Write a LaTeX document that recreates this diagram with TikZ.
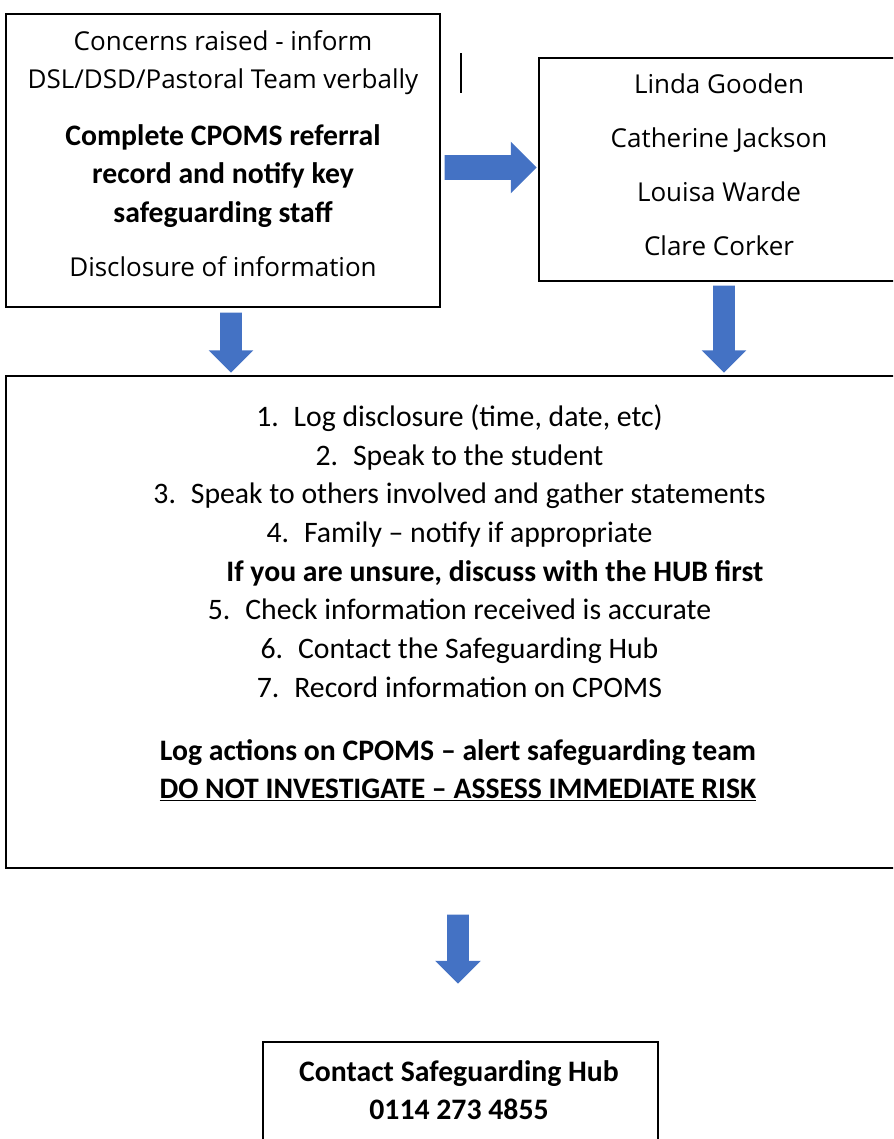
\documentclass[tikz,border=0pt]{standalone}
\usepackage{fontspec}
\setmainfont{Carlito}
\newfontfamily\segoe{Open Sans}
\usepackage{tikz}
\usetikzlibrary{shapes}
\definecolor{officeblue}{HTML}{4472C4}
\tikzset{
  box/.style={rectangle,draw,line width=1.3pt,inner sep=0pt},
  block arrow/.style n args={3}{single arrow,fill=officeblue,draw=none,
    inner xsep=0pt,inner ysep={0.5*#3},single arrow tip angle=90,anchor=tip,
    single arrow head extend={(#2-#3)/2},minimum height=#1,minimum width=#2},
  seg text/.style={font=\segoe\fontsize{19.5}{28.5}\selectfont,align=center},
  cal text/.style={font=\fontsize{22.3}{29}\selectfont,align=center},
  cal bold/.style={font=\bfseries\fontsize{22.3}{29}\selectfont,align=center}
}

\begin{document}
\begin{tikzpicture}[x=0.75pt,y=-0.75pt]
	\clip (0,0) rectangle (893,1139);
	% boxes
	\node [box,minimum width=325.5pt,minimum height=219.75pt] (concern) at (223,160.5) {};
	\node [box,minimum width=274.5pt,minimum height=167.25pt] (staff) at (722,169.5) {};
	\node [box,minimum width=674.25pt,minimum height=369pt] (steps) at (455.5,622) {};
	\node [box,minimum width=296.25pt,minimum height=103.5pt] (hub) at (460.5,1111) {};
	\draw [line width=1.3pt] (461,53) -- (461,93);
	% texts
	\node [seg text] (raised) at (223,63) {Concerns raised - inform\\DSL/DSD/Pastoral Team verbally};
	\node [cal bold] (cpoms) at (223,176) {Complete CPOMS referral\\record and notify key\\safeguarding staff};
	\node [seg text] (disclosure) at (223,267) {Disclosure of information};
	\node [seg text,font=\segoe\fontsize{19.5}{40.5}\selectfont] (names) at (719,165)
	  {Linda Gooden\\Catherine Jackson\\Louisa Warde\\Clare Corker};
	\node [cal text] (list) at (459.5,551) {1.\enspace Log disclosure (time, date, etc)\\
	  2.\enspace Speak to the student\\
	  3.\enspace Speak to others involved and gather statements\\
	  4.\enspace Family – notify if appropriate\\
	  \hspace*{53pt}\textbf{If you are unsure, discuss with the HUB first}\\
	  5.\enspace Check information received is accurate\\
	  6.\enspace Contact the Safeguarding Hub\\
	  7.\enspace Record information on CPOMS};
	\node [cal bold,font=\bfseries\fontsize{22.3}{28.5}\selectfont] (log) at (458,770)
	  {Log actions on CPOMS – alert safeguarding team\\\underline{DO NOT INVESTIGATE – ASSESS IMMEDIATE RISK}};
	\node [cal bold,font=\bfseries\fontsize{22.3}{28}\selectfont] (hubtext) at (459,1090)
	  {Contact Safeguarding Hub\\0114 273 4855};
	% block arrows, placed by their tips
	\node [block arrow={69pt}{38.25pt}{18pt}] (a1) at (537,167.5) {};
	\node [block arrow={45pt}{33pt}{15.75pt},rotate=-90] (a2) at (231,373) {};
	\node [block arrow={65.25pt}{33pt}{15.75pt},rotate=-90] (a3) at (724,373) {};
	\node [block arrow={51.75pt}{33.75pt}{15.75pt},rotate=-90] (a4) at (458,984) {};
\end{tikzpicture}
\end{document}
